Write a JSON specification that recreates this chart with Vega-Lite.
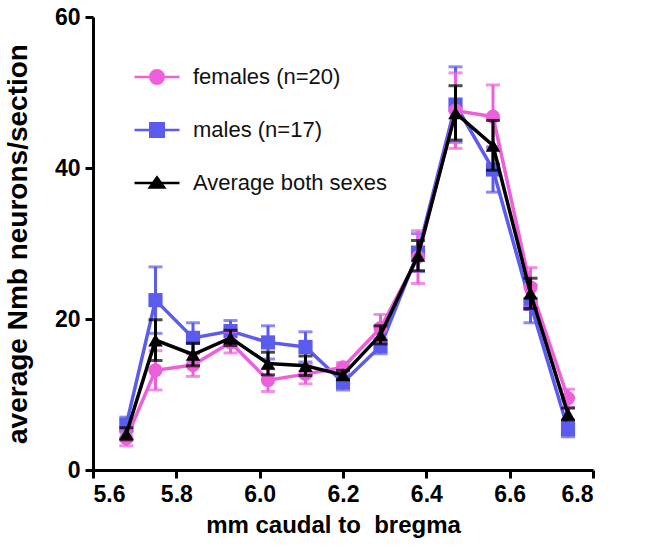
{
  "$schema": "https://vega.github.io/schema/vega-lite/v6.json",
  "autosize": "none",
  "width": 500,
  "height": 453,
  "padding": {"left": 93, "top": 17, "right": 57, "bottom": 83},
  "background": "white",
  "config": {
    "view": {"stroke": null},
    "font": "Liberation Sans",
    "axis": {
      "domainColor": "black", "domainWidth": 3, "tickColor": "black", "tickWidth": 3, "tickSize": 8,
      "labelFont": "Liberation Sans", "labelFontSize": 23, "labelFontWeight": "bold", "labelColor": "black",
      "titleFont": "Liberation Sans", "titleFontSize": 24, "titleFontWeight": "bold", "titleColor": "black",
      "grid": false, "labelPadding": 5
    }
  },
  "data": {"values": [
    {"x": 5.68, "s": "males (n=17)", "y": 6.0, "e": 1.0},
    {"x": 5.75, "s": "males (n=17)", "y": 22.5, "e": 4.4},
    {"x": 5.84, "s": "males (n=17)", "y": 17.5, "e": 2.0},
    {"x": 5.93, "s": "males (n=17)", "y": 18.4, "e": 1.4},
    {"x": 6.02, "s": "males (n=17)", "y": 16.9, "e": 2.2},
    {"x": 6.11, "s": "males (n=17)", "y": 16.3, "e": 2.0},
    {"x": 6.20, "s": "males (n=17)", "y": 11.6, "e": 1.0},
    {"x": 6.29, "s": "males (n=17)", "y": 16.4, "e": 1.0},
    {"x": 6.38, "s": "males (n=17)", "y": 28.8, "e": 2.5},
    {"x": 6.47, "s": "males (n=17)", "y": 48.4, "e": 5.0},
    {"x": 6.56, "s": "males (n=17)", "y": 39.8, "e": 3.0},
    {"x": 6.65, "s": "males (n=17)", "y": 22.0, "e": 2.5},
    {"x": 6.74, "s": "males (n=17)", "y": 5.4, "e": 1.0},
    {"x": 5.68, "s": "females (n=20)", "y": 4.2, "e": 1.0},
    {"x": 5.75, "s": "females (n=20)", "y": 13.2, "e": 2.6},
    {"x": 5.84, "s": "females (n=20)", "y": 13.9, "e": 1.5},
    {"x": 5.93, "s": "females (n=20)", "y": 16.9, "e": 1.4},
    {"x": 6.02, "s": "females (n=20)", "y": 11.9, "e": 1.5},
    {"x": 6.11, "s": "females (n=20)", "y": 12.7, "e": 1.3},
    {"x": 6.20, "s": "females (n=20)", "y": 13.6, "e": 0.6},
    {"x": 6.29, "s": "females (n=20)", "y": 18.8, "e": 1.8},
    {"x": 6.38, "s": "females (n=20)", "y": 28.2, "e": 3.5},
    {"x": 6.47, "s": "females (n=20)", "y": 47.6, "e": 5.0},
    {"x": 6.56, "s": "females (n=20)", "y": 46.8, "e": 4.2},
    {"x": 6.65, "s": "females (n=20)", "y": 24.2, "e": 2.6},
    {"x": 6.74, "s": "females (n=20)", "y": 9.5, "e": 1.2},
    {"x": 5.68, "s": "Average both sexes", "y": 4.8, "e": 0.8},
    {"x": 5.75, "s": "Average both sexes", "y": 17.2, "e": 2.7},
    {"x": 5.84, "s": "Average both sexes", "y": 15.3, "e": 1.5},
    {"x": 5.93, "s": "Average both sexes", "y": 17.5, "e": 1.0},
    {"x": 6.02, "s": "Average both sexes", "y": 14.1, "e": 1.5},
    {"x": 6.11, "s": "Average both sexes", "y": 13.8, "e": 1.3},
    {"x": 6.20, "s": "Average both sexes", "y": 12.6, "e": 0.6},
    {"x": 6.29, "s": "Average both sexes", "y": 17.9, "e": 1.2},
    {"x": 6.38, "s": "Average both sexes", "y": 28.4, "e": 2.0},
    {"x": 6.47, "s": "Average both sexes", "y": 47.3, "e": 3.6},
    {"x": 6.56, "s": "Average both sexes", "y": 43.0, "e": 3.3},
    {"x": 6.65, "s": "Average both sexes", "y": 23.4, "e": 2.0},
    {"x": 6.74, "s": "Average both sexes", "y": 7.4, "e": 0.8}
  ]},
  "encoding": {
    "x": {"field": "x", "type": "quantitative", "scale": {"domain": [5.6, 6.8], "nice": false, "zero": false},
      "axis": {"values": [5.6, 5.8, 6.0, 6.2, 6.4, 6.6, 6.8], "format": ".1f", "title": "mm caudal to \u00a0bregma", "titleX": 240, "titleY": 43, "titleBaseline": "top"}},
    "y": {"field": "y", "type": "quantitative", "scale": {"domain": [0, 60], "nice": false},
      "axis": {"values": [0, 20, 40, 60], "title": "average Nmb neurons/section", "titleFontSize": 28, "titlePadding": 22}},
    "color": {"field": "s", "type": "nominal",
      "scale": {"domain": ["females (n=20)", "males (n=17)", "Average both sexes"], "range": ["#ee5fdc", "#5b5bef", "#000000"]},
      "legend": {
        "orient": "none", "legendX": 40, "legendY": 36, "title": null,
        "symbolSize": 2025, "symbolStrokeWidth": 2.5,
        "labelFont": "Liberation Sans", "labelFontSize": 22, "labelColor": "#111", "labelOffset": 12, "labelLimit": 400,
        "rowPadding": 17,
        "encode": {"symbols": {"update": {
          "shape": {"signal": "datum.value === 'females (n=20)' ? 'M-1,0H1M0.3,0A0.3,0.3 0 1,1 -0.3,0A0.3,0.3 0 1,1 0.3,0Z' : datum.value === 'males (n=17)' ? 'M-1,0H1M-0.3,-0.3H0.3V0.3H-0.3Z' : 'M-1,0H1M0,-0.25L0.32,0.2H-0.32Z'"},
          "fill": {"signal": "datum.value === 'females (n=20)' ? '#ee5fdc' : datum.value === 'males (n=17)' ? '#1515ee' : '#000000'"},
          "stroke": {"signal": "datum.value === 'females (n=20)' ? '#ee5fdc' : datum.value === 'males (n=17)' ? '#5b5bef' : '#000000'"},
          "strokeWidth": {"value": 2.5},
          "opacity": {"value": 1}
        }}}
      }}
  },
  "layer": [
    {"transform": [{"filter": "datum.s === 'males (n=17)'"}], "mark": {"type": "errorbar", "thickness": 3, "ticks": {"size": 14}}, "encoding": {"yError": {"field": "e"}}},
    {"transform": [{"filter": "datum.s === 'males (n=17)'"}], "mark": {"type": "line", "strokeWidth": 3.5}},
    {"transform": [{"filter": "datum.s === 'males (n=17)'"}], "mark": {"type": "point", "filled": true, "opacity": 1, "size": 200, "shape": "square"}},
    {"transform": [{"filter": "datum.s === 'females (n=20)'"}], "mark": {"type": "errorbar", "thickness": 3, "ticks": {"size": 14}}, "encoding": {"yError": {"field": "e"}}},
    {"transform": [{"filter": "datum.s === 'females (n=20)'"}], "mark": {"type": "line", "strokeWidth": 3.5}},
    {"transform": [{"filter": "datum.s === 'females (n=20)'"}], "mark": {"type": "point", "filled": true, "opacity": 1, "size": 200, "shape": "circle"}},
    {"transform": [{"filter": "datum.s === 'Average both sexes'"}], "mark": {"type": "errorbar", "thickness": 3, "ticks": {"size": 14}}, "encoding": {"yError": {"field": "e"}}},
    {"transform": [{"filter": "datum.s === 'Average both sexes'"}], "mark": {"type": "line", "strokeWidth": 3.5}},
    {"transform": [{"filter": "datum.s === 'Average both sexes'"}], "mark": {"type": "point", "filled": true, "opacity": 1, "size": 210, "shape": "triangle-up"}}
  ]
}
